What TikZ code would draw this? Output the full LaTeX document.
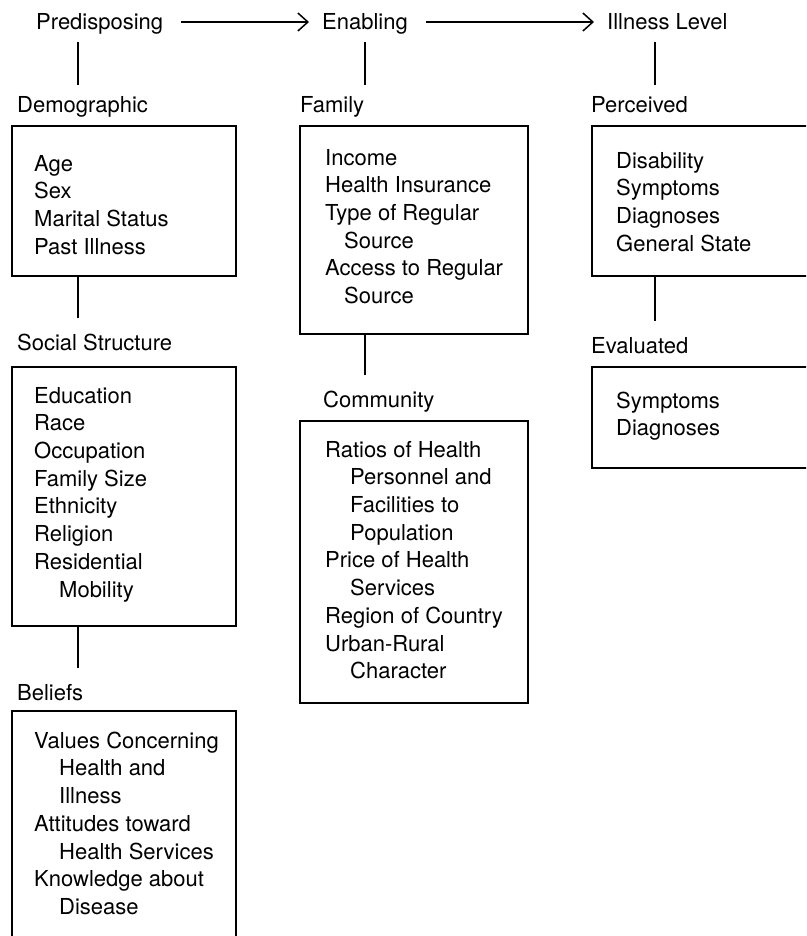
\documentclass[tikz,border=0pt]{standalone}
\usepackage{fontspec}
\setmainfont{TeX Gyre Heros}
\usetikzlibrary{arrows.meta,positioning}

\tikzset{
  txt/.style={inner sep=0pt, font=\fontsize{22}{27.7}\selectfont},
  head/.style={txt, anchor=base west, text height=16pt, text depth=5pt},
  entries/.style={txt, anchor=north west, align=left, yshift=19.4pt},
  box/.style={draw, line width=2pt, anchor=north west, inner sep=0pt},
  link/.style={line width=1.5pt, shorten >=16pt},
  toplink/.style={line width=1.5pt, shorten <=7pt, shorten >=12pt},
  flow/.style={line width=1.5pt, shorten <=18pt, shorten >=13pt,
    -{Straight Barb[length=10pt,width=18pt,line width=1.5pt]}}
}
\newcommand\ind[1][25pt]{\hspace*{#1}}

\begin{document}
\begin{tikzpicture}[x=1pt,y=-1pt]
  \useasboundingbox (0,0) rectangle (806,936);
  \clip (0,0) rectangle (806,936);

  % columns for the vertical links
  \coordinate (colA) at (78,0);
  \coordinate (colB) at (365,0);
  \coordinate (colC) at (655,0);

  % Top row
  \node[head] (pre) at (36,30) {Predisposing};
  \node[head] (ena) at (322,30) {Enabling};
  \node[head] (ill) at (607,30) {Illness Level};

  \draw[flow] ([yshift=8pt]pre.base east) -- ([yshift=8pt]ena.base west);
  \draw[flow] ([yshift=8pt]ena.base east) -- ([yshift=8pt]ill.base west);

  % Predisposing column
  \node[head] (demo) at (17,113) {Demographic};
  \node[box, minimum width=224pt, minimum height=150pt] (demobox) at (11,125) {};
  \node[entries] (demotext) at (34,171) {\strut Age\\Sex\\Marital Status\\Past Illness};

  \node[head] (soc) at (17,350) {Social Structure};
  \node[box, minimum width=224pt, minimum height=259pt] (socbox) at (11,366) {};
  \node[entries] (soctext) at (34,403) {\strut Education\\Race\\Occupation\\Family Size\\Ethnicity\\Religion\\Residential\\\ind Mobility};

  \node[head] (bel) at (17,700) {Beliefs};
  \node[box, minimum width=224pt, minimum height=250pt] (belbox) at (11,710) {};
  \node[entries] (beltext) at (34,748) {\strut Values Concerning\\\ind Health and\\\ind Illness\\Attitudes toward\\\ind Health Services\\Knowledge about\\\ind Disease};

  % Enabling column
  \node[head] (fam) at (300,113) {Family};
  \node[box, minimum width=228pt, minimum height=208pt] (fambox) at (299,125) {};
  \node[entries] (famtext) at (325,165) {\strut Income\\Health Insurance\\Type of Regular\\\ind[19pt]Source\\Access to Regular\\\ind[19pt]Source};

  \node[head] (com) at (323,407) {Community};
  \node[box, minimum width=228pt, minimum height=282pt] (combox) at (299,420) {};
  \node[entries] (comtext) at (325,457) {\strut Ratios of Health\\\ind Personnel and\\\ind Facilities to\\\ind Population\\Price of Health\\\ind Services\\Region of Country\\Urban-Rural\\\ind Character};

  % Illness level column
  \node[head] (per) at (591,113) {Perceived};
  \node[box, minimum width=240pt, minimum height=150pt] (perbox) at (591,125) {};
  \node[entries] (pertext) at (616,168) {\strut Disability\\Symptoms\\Diagnoses\\General State};

  \node[head] (eva) at (591,353) {Evaluated};
  \node[box, minimum width=240pt, minimum height=101pt] (evabox) at (591,366) {};
  \node[entries] (evatext) at (616,408) {\strut Symptoms\\Diagnoses};

  % Vertical links
  \draw[toplink] (pre.south -| colA) -- (demo.north -| colA);
  \draw[toplink] (ena.south -| colB) -- (fam.north -| colB);
  \draw[toplink] (ill.south -| colC) -- (per.north -| colC);
  \draw[link] (demobox.south -| colA) -- (soc.north -| colA);
  \draw[link] (socbox.south -| colA) -- (bel.north -| colA);
  \draw[link] (fambox.south -| colB) -- (com.north -| colB);
  \draw[link] (perbox.south -| colC) -- (eva.north -| colC);
\end{tikzpicture}
\end{document}
